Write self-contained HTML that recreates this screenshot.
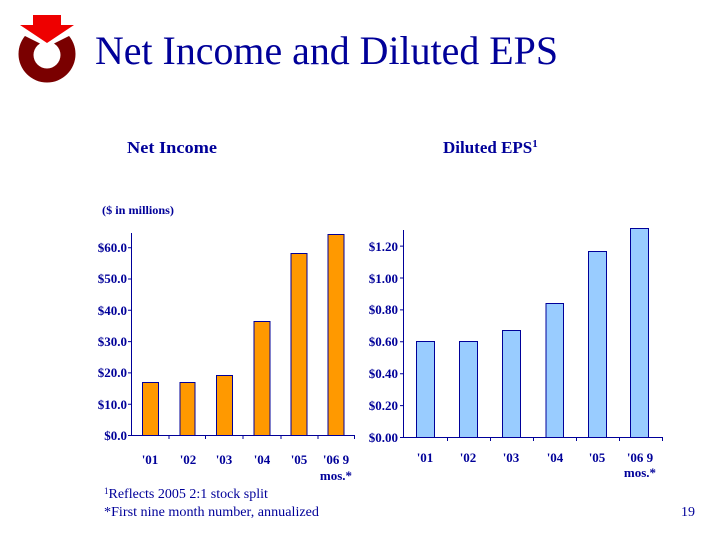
<!DOCTYPE html>
<html><head><meta charset="utf-8"><style>
body{margin:0;background:#fff}
svg{display:block}
text{font-family:"Liberation Serif",serif;fill:#000099}
.b{font-weight:bold}
</style></head><body>
<svg width="720" height="540" viewBox="0 0 720 540" xmlns="http://www.w3.org/2000/svg">
<!-- logo -->
<circle cx="47" cy="54" r="28.5" fill="#7a0000"/>
<circle cx="47" cy="55" r="13.5" fill="#fff"/>
<polygon points="28,22 66,22 81,30 47,47 13,30" fill="#fff"/>
<polygon points="33,15 61,15 61,25 74,25 47,43 20,25 33,25" fill="#ee0000"/>
<text x="95" y="64" font-size="40" textLength="463" lengthAdjust="spacingAndGlyphs">Net Income and Diluted EPS</text>
<text x="127" y="153" font-size="17" class="b" textLength="90" lengthAdjust="spacingAndGlyphs">Net Income</text>
<text x="443" y="153" font-size="17" class="b">Diluted EPS<tspan font-size="11" dy="-6">1</tspan></text>
<text x="102" y="214" font-size="12" class="b" textLength="72" lengthAdjust="spacingAndGlyphs">($ in millions)</text>
<!-- left chart -->
<g fill="#ff9900" stroke="#000099" stroke-width="1">
<rect x="142.5" y="382.5" width="16" height="53"/>
<rect x="180" y="382.5" width="15" height="53"/>
<rect x="216.5" y="375.5" width="16" height="60"/>
<rect x="254" y="321.5" width="16" height="114"/>
<rect x="291" y="253.5" width="16" height="182"/>
<rect x="328" y="234.5" width="16" height="201"/>
</g>
<g stroke="#000099" stroke-width="1" fill="none">
<path d="M131.5 233V435.5H354.5"/>
<path d="M128 435.5h4M128 404.2h4M128 372.9h4M128 341.6h4M128 310.3h4M128 279h4M128 247.7h4"/>
<path d="M169 435v4M205.5 435v4M243 435v4M281 435v4M318 435v4M354.5 435v4"/>
</g>
<g font-size="13" class="b" text-anchor="end">
<text x="127" y="440">$0.0</text><text x="127" y="409">$10.0</text><text x="127" y="377">$20.0</text><text x="127" y="346">$30.0</text><text x="127" y="315">$40.0</text><text x="127" y="283">$50.0</text><text x="127" y="252">$60.0</text>
</g>
<g font-size="13" class="b" text-anchor="middle">
<text x="150" y="464">'01</text><text x="188" y="464">'02</text><text x="224" y="464">'03</text><text x="262" y="464">'04</text><text x="299" y="464">'05</text><text x="336" y="464">'06 9</text><text x="336" y="480">mos.*</text>
</g>
<!-- right chart -->
<g fill="#99ccff" stroke="#000099" stroke-width="1">
<rect x="416.5" y="341.5" width="18" height="96"/>
<rect x="459.5" y="341.5" width="18" height="96"/>
<rect x="502.5" y="330.5" width="18" height="107"/>
<rect x="546" y="303.5" width="17.5" height="134"/>
<rect x="588.5" y="251.5" width="18" height="186"/>
<rect x="630.5" y="228.5" width="18" height="209"/>
</g>
<g stroke="#000099" stroke-width="1" fill="none">
<path d="M403.5 230V437.5H662.5"/>
<path d="M400 437.5h4M400 405.6h4M400 373.7h4M400 341.8h4M400 309.9h4M400 278h4M400 246.1h4"/>
<path d="M447.5 437v4M490.5 437v4M533.5 437v4M576.5 437v4M619.5 437v4M662.5 437v4"/>
</g>
<g font-size="13" class="b" text-anchor="end">
<text x="398" y="442">$0.00</text><text x="398" y="410">$0.20</text><text x="398" y="378">$0.40</text><text x="398" y="346">$0.60</text><text x="398" y="314">$0.80</text><text x="398" y="283">$1.00</text><text x="398" y="251">$1.20</text>
</g>
<g font-size="13" class="b" text-anchor="middle">
<text x="425" y="462">'01</text><text x="468" y="462">'02</text><text x="511" y="462">'03</text><text x="555" y="462">'04</text><text x="597" y="462">'05</text><text x="640" y="462">'06 9</text><text x="640" y="477">mos.*</text>
</g>
<text x="104" y="498" font-size="14"><tspan font-size="9" dy="-4">1</tspan><tspan dy="4">Reflects 2005 2:1 stock split</tspan></text>
<text x="104" y="516" font-size="14" textLength="215" lengthAdjust="spacingAndGlyphs">*First nine month number, annualized</text>
<text x="695" y="516" font-size="14" text-anchor="end">19</text>
</svg>
</body></html>
